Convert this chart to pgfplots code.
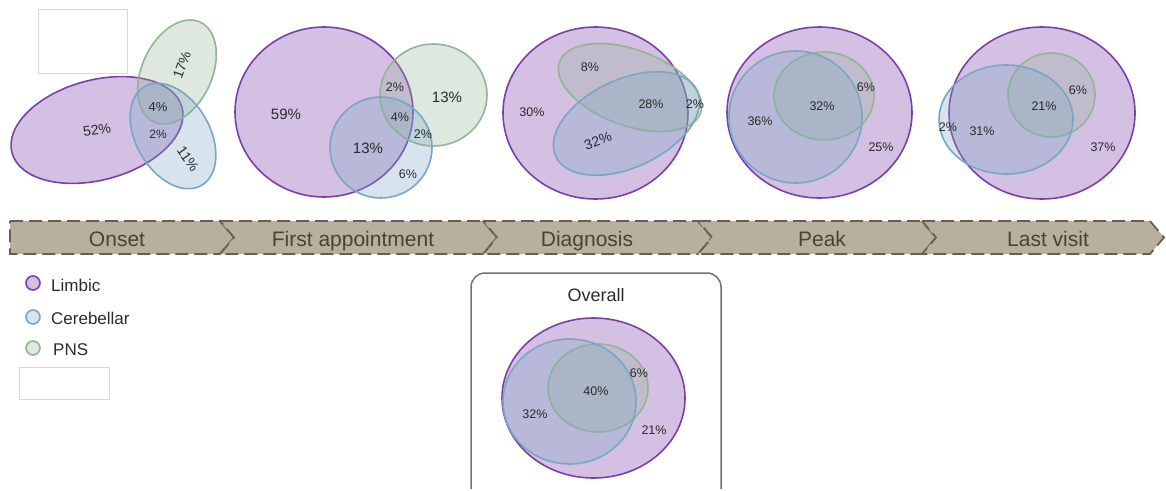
\documentclass[border=0pt]{standalone}
\usepackage{pgfplots}
\pgfplotsset{compat=1.18}
\usepackage{fontspec}
\setmainfont{Liberation Sans}

\definecolor{limb}{HTML}{7B3FA9}
\definecolor{cere}{HTML}{79A6C4}
\definecolor{pns}{HTML}{93B495}
\definecolor{band}{HTML}{B9AF9D}
\definecolor{bandline}{HTML}{6B5E4E}
\definecolor{bandtxt}{HTML}{4A4238}
\definecolor{txt}{HTML}{2B2B2B}

\tikzset{
  L/.style={draw=limb, line width=1.6pt, fill=limb, fill opacity=0.33, draw opacity=1},
  C/.style={draw=cere, line width=1.6pt, fill=cere, fill opacity=0.3, draw opacity=1},
  P/.style={draw=pns, line width=1.6pt, fill=pns, fill opacity=0.3, draw opacity=1},
  seg/.style={fill=band, draw=bandline, line width=1.8pt, dash pattern=on 13pt off 6pt},
  stage/.style={font=\fontsize{21}{24}\selectfont, text=bandtxt, inner sep=0pt, anchor=base},
  emptybox/.style={draw=black!15, line width=0.8pt, fill=white},
}
\pgfplotsset{
  lbl/.style={draw=none, mark=none, nodes near coords={\pgfplotspointmeta\%},
    point meta=explicit symbolic,
    every node near coord/.append style={anchor=center, inner sep=0pt, text=txt, font=#1}},
}
% cx, cy, rx, ry, angle, style
\newcommand{\venn}[6]{\draw[#6, rotate around={#5:(axis cs:#1,#2)}] (axis cs:#1,#2) ellipse [x radius=#3pt, y radius=#4pt];}

\begin{document}
\begin{tikzpicture}
\begin{axis}[width=1166pt, height=490pt, scale only axis,
  xmin=0, xmax=1166, ymin=0, ymax=490, y dir=reverse,
  hide axis, clip=false]

\coordinate (tl) at (axis cs:0,0);
\coordinate (br) at (axis cs:1166,490);

% Onset
\draw[emptybox] (axis cs:38,9) rectangle (axis cs:127,73);
\venn{97}{130}{88}{50}{15}{L}
\venn{177}{72}{55}{35}{65}{P}
\venn{173}{136}{57}{37}{-60}{C}

% First appointment
\venn{324}{112}{89}{85}{0}{L}
\venn{433.5}{95}{53.5}{51}{0}{P}
\venn{381}{147.5}{51}{50.5}{0}{C}

% Diagnosis
\venn{595.5}{113}{92.5}{86}{0}{L}
\venn{630}{87.5}{75}{38}{-20}{P}
\venn{626.5}{123.5}{78}{44}{25}{C}

% Peak
\venn{819.5}{112.5}{92.5}{85.5}{0}{L}
\venn{824}{96}{50}{44}{0}{P}
\venn{795.5}{117}{66.5}{66}{0}{C}

% Last visit
\venn{1042}{113}{93}{86}{0}{L}
\venn{1051.5}{95}{43.5}{42}{0}{P}
\venn{1006}{119.5}{67}{54.5}{0}{C}

% timeline
\draw[seg] (axis cs:10,221) -- (axis cs:220,221) -- (axis cs:234,237.5) -- (axis cs:220,254) -- (axis cs:10,254) -- cycle;
\draw[seg] (axis cs:220,221) -- (axis cs:483,221) -- (axis cs:497,237.5) -- (axis cs:483,254) -- (axis cs:220,254) -- (axis cs:234,237.5) -- cycle;
\draw[seg] (axis cs:483,221) -- (axis cs:698,221) -- (axis cs:712,237.5) -- (axis cs:698,254) -- (axis cs:483,254) -- (axis cs:497,237.5) -- cycle;
\draw[seg] (axis cs:698,221) -- (axis cs:922,221) -- (axis cs:936,237.5) -- (axis cs:922,254) -- (axis cs:698,254) -- (axis cs:712,237.5) -- cycle;
\draw[seg] (axis cs:922,221) -- (axis cs:1150,221) -- (axis cs:1164,237.5) -- (axis cs:1150,254) -- (axis cs:922,254) -- (axis cs:936,237.5) -- cycle;
\node[stage] at (axis cs:117,246) {Onset};
\node[stage] at (axis cs:353,246) {First appointment};
\node[stage] at (axis cs:587,246) {Diagnosis};
\node[stage] at (axis cs:822,246) {Peak};
\node[stage] at (axis cs:1048,246) {Last visit};

% legend
\draw[draw=limb, line width=1.6pt, fill=limb!33] (axis cs:33,283) circle [radius=7pt];
\draw[draw=cere, line width=1.6pt, fill=cere!30] (axis cs:33,317) circle [radius=7pt];
\draw[draw=pns, line width=1.6pt, fill=pns!30] (axis cs:33,348) circle [radius=7pt];
\node[anchor=west, inner sep=0pt, font=\fontsize{17}{20}\selectfont, text=txt] at (axis cs:51,285) {Limbic};
\node[anchor=west, inner sep=0pt, font=\fontsize{17}{20}\selectfont, text=txt] at (axis cs:51,318) {Cerebellar};
\node[anchor=west, inner sep=0pt, font=\fontsize{17}{20}\selectfont, text=txt] at (axis cs:53,350) {PNS};
\draw[emptybox] (axis cs:19,367) rectangle (axis cs:109,399);

% Overall panel
\draw[draw=black!55, line width=1.5pt, rounded corners=14pt] (axis cs:471,489) -- (axis cs:471,273) -- (axis cs:721,273) -- (axis cs:721,489);
\node[font=\fontsize{18}{21}\selectfont, text=txt] at (axis cs:596,295) {Overall};
\venn{593.5}{398}{91.5}{80}{0}{L}
\venn{598}{388}{50}{44}{0}{P}
\venn{569.5}{401.5}{66.5}{62.5}{0}{C}

% percentage labels
\addplot[lbl={\fontsize{15}{17}\selectfont}] table[meta=m] {
x y m
286 114 59
447 97 13
368 148 13
};
\addplot[lbl={\fontsize{14}{16}\selectfont}, nodes near coords style={rotate=8}] table[meta=m] {
x y m
97 130 52
};
\addplot[lbl={\fontsize{13}{15}\selectfont}] table[meta=m] {
x y m
158 107 4
};
\addplot[lbl={\fontsize{12}{14}\selectfont}] table[meta=m] {
x y m
158 134 2
};
\addplot[lbl={\fontsize{12.5}{14}\selectfont}] table[meta=m] {
x y m
395 87 2
400 117 4
423 134 2
408 174 6
590 67 8
532 112 30
651 104 28
695 104 2
866 87 6
822 106 32
760 121 36
881 147 25
1078 90 6
1044 106 21
948 127 2
982 131 31
1103 147 37
639 373 6
596 391 40
535 414 32
654 430 21
};
\addplot[lbl={\fontsize{14}{16}\selectfont}, nodes near coords style={rotate=70}] table[meta=m] {
x y m
182 65 17
};
\addplot[lbl={\fontsize{14}{16}\selectfont}, nodes near coords style={rotate=-55}] table[meta=m] {
x y m
188 159 11
};
\addplot[lbl={\fontsize{14}{16}\selectfont}, nodes near coords style={rotate=20}] table[meta=m] {
x y m
598 141 32
};
\end{axis}
\pgfresetboundingbox
\useasboundingbox (tl) rectangle (br);
\end{tikzpicture}
\end{document}
